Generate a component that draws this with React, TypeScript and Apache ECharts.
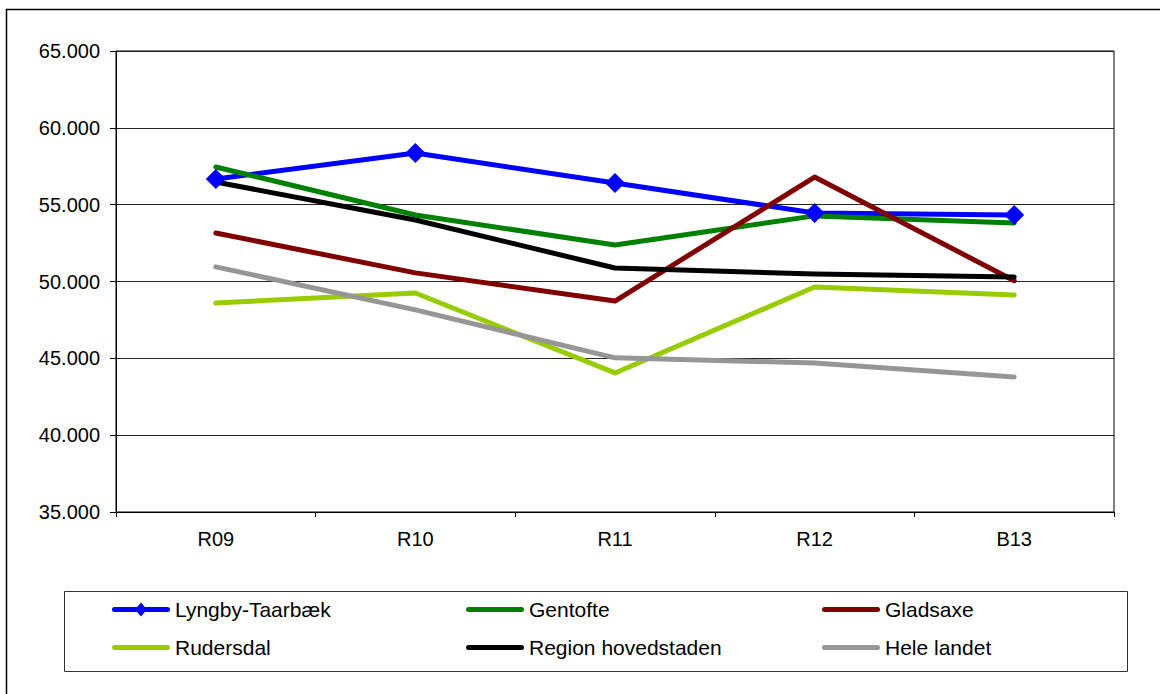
import React, { useEffect, useRef } from "react";
import * as echarts from "echarts";

const categories = ["R09", "R10", "R11", "R12", "B13"];
const seriesNames = ["Lyngby-Taarbæk", "Gentofte", "Gladsaxe", "Rudersdal", "Region hovedstaden", "Hele landet"];
const lyngby = [56670, 58360, 56410, 54460, 54330];
const gentofte = [57450, 54330, 52380, 54270, 53810];
const gladsaxe = [53160, 50560, 48730, 56800, 50050];
const rudersdal = [48600, 49250, 44050, 49640, 49120];
const region = [56480, 54000, 50880, 50490, 50300];
const heleLandet = [50950, 48150, 45030, 44700, 43790];
const seriesColors = ["#0000FF", "#008000", "#800000", "#99CC00", "#000000", "#969696"];
const yMin = 35000;
const yMax = 65000;
const yStep = 5000;

const FONT = "'Liberation Sans', Arial, sans-serif";

const ICON_LINE_DIAMOND =
  "path://M2.5,4.5 L55.5,4.5 A2.5,2.5 0 0 1 55.5,9.5 L2.5,9.5 A2.5,2.5 0 0 1 2.5,4.5 Z M29,0 L35,7 L29,14 L23,7 Z";
const ICON_LINE =
  "path://M2.5,0 L55.5,0 A2.5,2.5 0 0 1 55.5,5 L2.5,5 A2.5,2.5 0 0 1 2.5,0 Z";

function fmt(v: number): string {
  const t = Math.floor(v / 1000);
  const r = Math.round(v % 1000);
  return t + "." + String(r).padStart(3, "0");
}

export default function App() {
  const ref = useRef<HTMLDivElement>(null);
  useEffect(() => {
    document.body.style.margin = "0";
    if (!ref.current) return;
    const chart = echarts.init(ref.current, undefined, { renderer: "svg" });
    const values = [lyngby, gentofte, gladsaxe, rudersdal, region, heleLandet];
    const series = seriesNames.map((name, i) => ({
      name,
      type: "line",
      data: values[i],
      symbol: i === 0 ? "diamond" : "none",
      symbolSize: i === 0 ? 20 : 0,
      showSymbol: i === 0,
      itemStyle: { color: seriesColors[i] },
      lineStyle: { color: seriesColors[i], width: 5, cap: "round", join: "round" },
      emphasis: { disabled: true },
      z: 2,
    }));
    const legendPos = [
      [112, 599], [466, 599], [822, 599],
      [112, 637], [466, 637], [822, 637],
    ];
    const legends = seriesNames.map((name, i) => ({
      data: [{ name, icon: i === 0 ? ICON_LINE_DIAMOND : ICON_LINE }],
      left: legendPos[i][0],
      top: legendPos[i][1],
      padding: 0,
      itemWidth: 58,
      itemHeight: i === 0 ? 14 : 5,
      itemGap: 0,
      selectedMode: false,
      itemStyle: { borderWidth: 0 },
      textStyle: { fontFamily: FONT, fontSize: 21, color: "#000", lineHeight: 21 },
    }));
    chart.setOption({
      animation: false,
      grid: {
        left: 116,
        right: 46,
        top: 51,
        bottom: 182,
        show: true,
        borderColor: "#000",
        borderWidth: 1,
        containLabel: false,
      },
      xAxis: {
        type: "category",
        data: categories,
        boundaryGap: true,
        axisLine: { show: true, lineStyle: { color: "#000", width: 1 } },
        axisTick: { show: true, alignWithLabel: false, length: 5, lineStyle: { color: "#000" } },
        axisLabel: { fontFamily: FONT, fontSize: 20, color: "#000", margin: 17 },
        splitLine: { show: false },
      },
      yAxis: {
        type: "value",
        min: yMin,
        max: yMax,
        interval: yStep,
        axisLine: { show: true, lineStyle: { color: "#000", width: 1 } },
        axisTick: { show: true, length: 6, lineStyle: { color: "#000" } },
        axisLabel: { fontFamily: FONT, fontSize: 20, color: "#000", margin: 16, formatter: (v: number) => fmt(v) },
        splitLine: { show: true, lineStyle: { color: "#222", width: 1 } },
      },
      legend: legends,
      graphic: [
        {
          type: "rect",
          shape: { x: 6.5, y: 9.5, width: 1170, height: 700 },
          style: { fill: "none", stroke: "#000", lineWidth: 1.5 },
          silent: true,
        },
        {
          type: "rect",
          shape: { x: 64.5, y: 591.5, width: 1063, height: 80 },
          style: { fill: "none", stroke: "#333", lineWidth: 1 },
          silent: true,
        },
      ],
      series,
    });
    return () => chart.dispose();
  }, []);
  return <div ref={ref} style={{ width: 1160, height: 694 }} />;
}
